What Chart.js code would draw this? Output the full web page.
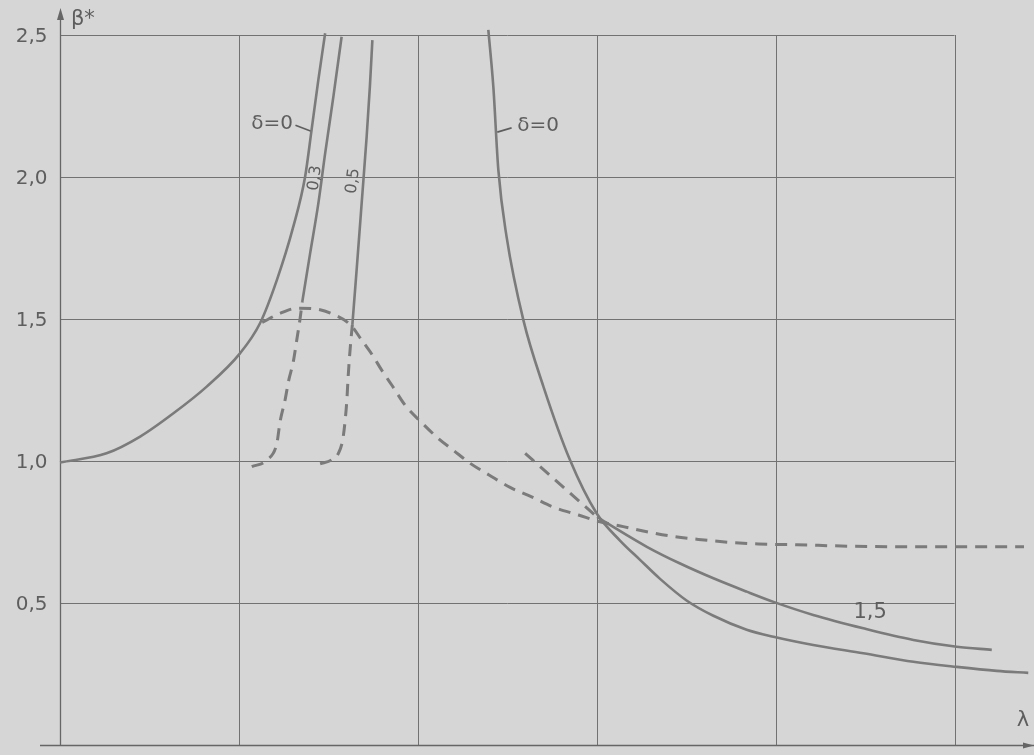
<!DOCTYPE html>
<html>
<head>
<meta charset="utf-8">
<script src="https://cdn.jsdelivr.net/npm/chart.js@4"></script>
<style>
  html, body { margin: 0; padding: 0; background: #d6d6d6; }
  canvas { display: block; }
</style>
</head>
<body>
<canvas id="c" width="1034" height="755"></canvas>
<script>
// ---- grid / ticks ----
const lambdaGrid = [0, 0.5, 1, 1.5, 2, 2.5];
const betaGrid = [0.5, 1, 1.5, 2, 2.5];
const betaTickLabels = ['0,5', '1,0', '1,5', '2,0', '2,5'];

// ---- curves (λ, β*) ----
const d0LeftLambda = [0, 0.13, 0.224, 0.317, 0.41, 0.503, 0.559, 0.606, 0.652, 0.685, 0.703, 0.722, 0.741];
const d0LeftBeta   = [0.995, 1.027, 1.086, 1.168, 1.262, 1.379, 1.485, 1.637, 1.825, 2.001, 2.165, 2.342, 2.506];

const d03DashLambda = [0.536, 0.579, 0.606, 0.615, 0.629, 0.639, 0.652, 0.662, 0.671, 0.677];
const d03DashBeta   = [0.980, 1.004, 1.062, 1.138, 1.215, 1.283, 1.350, 1.429, 1.502, 1.56];
const d03SolidLambda = [0.677, 0.699, 0.722, 0.741, 0.764, 0.787];
const d03SolidBeta   = [1.56, 1.731, 1.907, 2.083, 2.283, 2.494];

const d05DashLambda = [0.727, 0.759, 0.778, 0.790, 0.797, 0.802, 0.805, 0.809, 0.814, 0.817];
const d05DashBeta   = [0.99, 1.004, 1.027, 1.074, 1.144, 1.221, 1.291, 1.365, 1.440, 1.479];
const d05SolidLambda = [0.817, 0.829, 0.843, 0.857, 0.866, 0.873];
const d05SolidBeta   = [1.479, 1.673, 1.907, 2.142, 2.318, 2.482];

const d0RightLambda = [1.197, 1.211, 1.225, 1.248, 1.295, 1.351, 1.425, 1.5, 1.565, 1.621, 1.677, 1.752, 1.826, 1.919, 1.994, 2.105, 2.245, 2.385, 2.506, 2.618, 2.706];
const d0RightBeta   = [2.518, 2.318, 2.025, 1.79, 1.496, 1.262, 1.004, 0.815, 0.72, 0.652, 0.585, 0.508, 0.455, 0.406, 0.381, 0.352, 0.323, 0.293, 0.275, 0.261, 0.254];

const d15DashLambda = [1.300, 1.360, 1.501];
const d15DashBeta   = [1.027, 0.96, 0.803];
const d15SolidLambda = [1.501, 1.537, 1.640, 1.733, 1.826, 1.919, 1.994, 2.105, 2.245, 2.385, 2.506, 2.604];
const d15SolidBeta   = [0.803, 0.775, 0.698, 0.639, 0.587, 0.540, 0.504, 0.458, 0.411, 0.370, 0.346, 0.335];

const envLambda = [0.565, 0.612, 0.663, 0.710, 0.761, 0.812, 0.843, 0.873, 0.899, 0.929, 0.966, 1.011, 1.054, 1.101, 1.146, 1.199, 1.258, 1.318, 1.376, 1.449, 1.509, 1.574, 1.640, 1.705, 1.784, 1.868, 1.952, 2.059, 2.211, 2.408, 2.556, 2.694];
const envBeta   = [1.488, 1.518, 1.538, 1.536, 1.518, 1.479, 1.426, 1.373, 1.320, 1.264, 1.194, 1.135, 1.083, 1.036, 0.992, 0.951, 0.907, 0.874, 0.839, 0.810, 0.786, 0.769, 0.751, 0.736, 0.724, 0.714, 0.708, 0.705, 0.700, 0.698, 0.698, 0.698];

// ---- annotations ----
const textLabels = [
  { t: 'δ=0', x: 0.593, y: 2.187, rot: 0, size: 20 },
  { t: 'δ=0', x: 1.336, y: 2.18, rot: 0, size: 20 },
  { t: '0,3', x: 0.713, y: 1.996, rot: -82, size: 16 },
  { t: '0,5', x: 0.819, y: 1.986, rot: -82, size: 16 },
  { t: '1,5', x: 2.264, y: 0.468, rot: 0, size: 21 },
  { t: 'β*', x: 0.064, y: 2.553, rot: 0, size: 21 },
  { t: 'λ', x: 2.691, y: 0.085, rot: 0, size: 21 }
];
const hooks = [
  [[0.658, 2.182], [0.700, 2.162]],
  [[1.262, 2.173], [1.222, 2.158]]
];

const INK = '#7b7b7b';
const GRID = '#727272';
const TEXT = '#5e5e5e';
const BG = '#d6d6d6';

function pts(xs, ys) { return xs.map((x, i) => ({ x: x, y: ys[i] })); }
function solid(xs, ys) {
  return { data: pts(xs, ys), borderColor: INK, borderWidth: 2.6, pointRadius: 0,
           showLine: true, cubicInterpolationMode: 'monotone', clip: false, fill: false };
}
function dashed(xs, ys) {
  const d = solid(xs, ys);
  d.borderDash = [12, 8];
  d.borderWidth = 3;
  return d;
}

const bgPlugin = {
  id: 'bg',
  beforeDraw(chart) {
    const ctx = chart.ctx;
    ctx.save();
    ctx.fillStyle = BG;
    ctx.fillRect(0, 0, chart.width, chart.height);
    ctx.restore();
  }
};

const gridPlugin = {
  id: 'grid',
  beforeDatasetsDraw(chart) {
    const ctx = chart.ctx, xs = chart.scales.x, ys = chart.scales.y;
    const xMaxG = lambdaGrid[lambdaGrid.length - 1];
    const yMaxG = betaGrid[betaGrid.length - 1];
    ctx.save();
    ctx.strokeStyle = GRID;
    ctx.lineWidth = 1;
    ctx.beginPath();
    betaGrid.forEach(b => {
      const py = Math.round(ys.getPixelForValue(b)) + 0.5;
      ctx.moveTo(xs.getPixelForValue(0), py);
      ctx.lineTo(xs.getPixelForValue(xMaxG), py);
    });
    lambdaGrid.forEach(l => {
      if (l === 0) return;
      const px = Math.round(xs.getPixelForValue(l)) + 0.5;
      ctx.moveTo(px, ys.getPixelForValue(yMaxG));
      ctx.lineTo(px, ys.getPixelForValue(0));
    });
    ctx.stroke();
    // axes
    const x0 = Math.round(xs.getPixelForValue(0)) + 0.5;
    const y0 = Math.round(ys.getPixelForValue(0)) + 0.5;
    ctx.strokeStyle = '#666';
    ctx.lineWidth = 1.3;
    ctx.beginPath();
    ctx.moveTo(x0, y0);
    ctx.lineTo(x0, 14);
    ctx.moveTo(40, y0);
    ctx.lineTo(chart.chartArea.right, y0);
    ctx.stroke();
    ctx.fillStyle = '#666';
    ctx.beginPath();
    ctx.moveTo(x0, 8); ctx.lineTo(x0 - 3.5, 20); ctx.lineTo(x0 + 3.5, 20); ctx.closePath();
    ctx.fill();
    const xr = chart.chartArea.right;
    ctx.beginPath();
    ctx.moveTo(xr, y0); ctx.lineTo(xr - 11, y0 - 3); ctx.lineTo(xr - 11, y0 + 3); ctx.closePath();
    ctx.fill();
    // tick labels of the β* axis
    ctx.fillStyle = TEXT;
    ctx.font = '20px "DejaVu Sans"';
    ctx.textAlign = 'right';
    ctx.textBaseline = 'middle';
    betaGrid.forEach((b, i) => {
      ctx.fillText(betaTickLabels[i], x0 - 13, ys.getPixelForValue(b) + 2);
    });
    ctx.restore();
  }
};

const labelPlugin = {
  id: 'labels',
  afterDatasetsDraw(chart) {
    const ctx = chart.ctx, xs = chart.scales.x, ys = chart.scales.y;
    ctx.save();
    ctx.fillStyle = TEXT;
    ctx.textAlign = 'center';
    ctx.textBaseline = 'middle';
    textLabels.forEach(L => {
      ctx.save();
      ctx.translate(xs.getPixelForValue(L.x), ys.getPixelForValue(L.y));
      ctx.rotate(L.rot * Math.PI / 180);
      ctx.font = L.size + 'px "DejaVu Sans"';
      ctx.fillText(L.t, 0, 0);
      ctx.restore();
    });
    ctx.strokeStyle = TEXT;
    ctx.lineWidth = 1.6;
    hooks.forEach(h => {
      ctx.beginPath();
      ctx.moveTo(xs.getPixelForValue(h[0][0]), ys.getPixelForValue(h[0][1]));
      ctx.lineTo(xs.getPixelForValue(h[1][0]), ys.getPixelForValue(h[1][1]));
      ctx.stroke();
    });
    ctx.restore();
  }
};

new Chart(document.getElementById('c'), {
  type: 'scatter',
  data: {
    datasets: [
      solid(d0LeftLambda, d0LeftBeta),
      dashed(d03DashLambda, d03DashBeta),
      solid(d03SolidLambda, d03SolidBeta),
      dashed(d05DashLambda, d05DashBeta),
      solid(d05SolidLambda, d05SolidBeta),
      solid(d0RightLambda, d0RightBeta),
      dashed(d15DashLambda, d15DashBeta),
      solid(d15SolidLambda, d15SolidBeta),
      dashed(envLambda, envBeta)
    ]
  },
  options: {
    responsive: false,
    maintainAspectRatio: false,
    animation: false,
    layout: { autoPadding: false, padding: { top: 35, bottom: 10, left: 60, right: 0 } },
    plugins: { legend: { display: false }, tooltip: { enabled: false } },
    scales: {
      x: { type: 'linear', min: 0, max: 2.722, display: false },
      y: { type: 'linear', min: 0, max: 2.5, display: false }
    }
  },
  plugins: [bgPlugin, gridPlugin, labelPlugin]
});
</script>
</body>
</html>
